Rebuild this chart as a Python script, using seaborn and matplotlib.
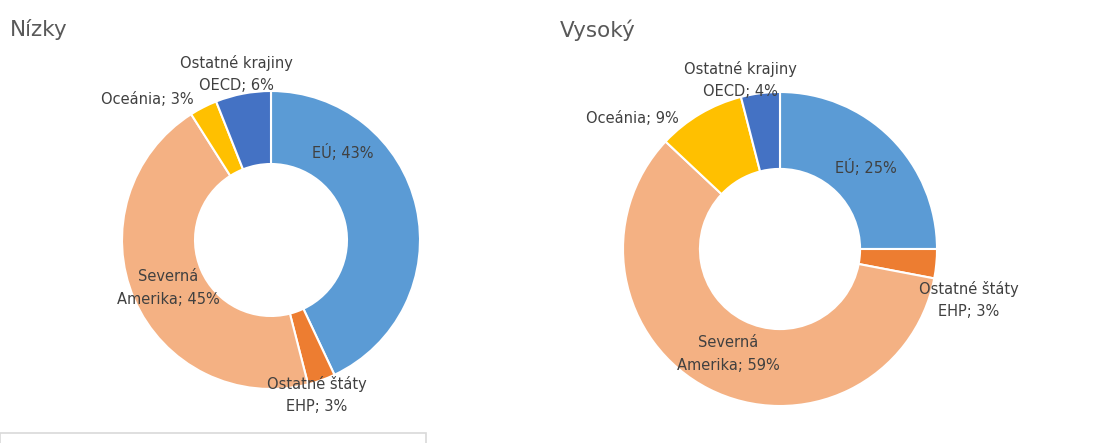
import matplotlib
matplotlib.use("Agg")
import matplotlib.pyplot as plt
from matplotlib.patches import Rectangle
import seaborn as sns

sns.set_theme(style="white")
plt.rcParams['font.family'] = ['DejaVu Sans']

# ---- data ----
categories = ["EÚ", "Ostatné štáty\nEHP", "Severná\nAmerika", "Oceánia", "Ostatné krajiny\nOECD"]
low_values = [43, 3, 45, 3, 6]
high_values = [25, 3, 59, 9, 4]
titles = ["Nízky", "Vysoký"]
colors = sns.color_palette(["#5B9BD5", "#ED7D31", "#F4B183", "#FFC000", "#4472C4"])

# label positions (in units of the pie radius, relative to centre)
low_label_pos = [(0.483, 0.584), (0.309, -1.040), (-0.691, -0.322), (-0.832, 0.940), (-0.235, 1.114)]
high_label_pos = [(0.548, 0.522), (1.204, -0.325), (-0.331, -0.669), (-0.943, 0.834), (-0.255, 1.076)]

W, H = 1120, 443
fig = plt.figure(figsize=(W / 100, H / 100), dpi=100)
fig.patch.set_facecolor("white")

panels = [
    # (values, label positions, axes pixel box x0, x1, centre x, centre y (from top), radius, title x)
    (low_values, low_label_pos, 0, 560, 271, 240, 149, 10),
    (high_values, high_label_pos, 560, 1120, 780, 249, 157, 560),
]

for (vals, lpos, x0, x1, cx, cy, R, tx), title in zip(panels, titles):
    ax = fig.add_axes([x0 / W, 0, (x1 - x0) / W, 1])
    ax.pie(vals, colors=colors, startangle=90, counterclock=False,
           wedgeprops=dict(width=0.49, edgecolor="white", linewidth=1.5))
    ax.set_aspect("auto")
    ax.set_xlim(-(cx - x0) / R, (x1 - cx) / R)
    ax.set_ylim(-(H - cy) / R, cy / R)
    ax.axis("off")
    for cat, v, (lx, ly) in zip(categories, vals, lpos):
        ax.text(lx, ly, f"{cat}; {v}%", ha="center", va="center",
                fontsize=10.5, color="#404040", linespacing=1.6)
    fig.text(tx / W, 1 - 30 / H, title, ha="left", va="center",
             fontsize=15.5, color="#595959")

fig.add_artist(Rectangle((0, -0.1), 426 / W, 0.1 + 10 / H, transform=fig.transFigure,
                         fill=False, edgecolor="#D9D9D9", linewidth=1.2))

fig.savefig("out.png", dpi=100, facecolor="white")
